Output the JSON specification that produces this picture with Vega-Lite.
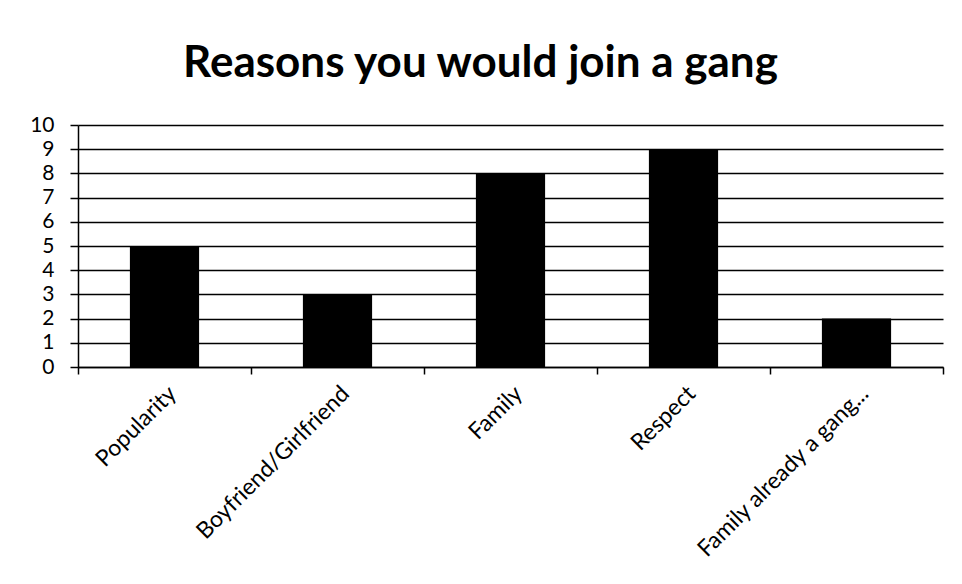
{
  "$schema": "https://vega.github.io/schema/vega-lite/v6.json",
  "width": 865,
  "height": 242,
  "autosize": "none",
  "padding": {"left": 78, "top": 125, "right": 19, "bottom": 217},
  "background": "white",
  "title": {
    "text": "Reasons you would join a gang",
    "font": "Lato",
    "fontSize": 44,
    "fontWeight": "bold",
    "color": "black",
    "anchor": "middle",
    "dx": -30,
    "offset": 28
  },
  "data": {
    "values": [
      {"reason": "Popularity", "count": 5},
      {"reason": "Boyfriend/Girlfriend", "count": 3},
      {"reason": "Family", "count": 8},
      {"reason": "Respect", "count": 9},
      {"reason": "Family already a gang...", "count": 2}
    ]
  },
  "mark": {"type": "bar", "color": "black", "width": {"band": 0.4}},
  "encoding": {
    "x": {
      "field": "reason",
      "type": "nominal",
      "sort": null,
      "scale": {"paddingInner": 0, "paddingOuter": 0},
      "axis": {
        "title": null,
        "labelAngle": -45,
        "labelAlign": "right",
        "labelBaseline": "top",
        "labelFont": "Lato",
        "labelFontSize": 23,
        "labelColor": "black",
        "labelPadding": 8,
        "labelLimit": 400,
        "tickBand": "extent",
        "tickSize": 7,
        "tickColor": "black",
        "tickWidth": 1.5,
        "domainColor": "black",
        "domainWidth": 1.5,
        "grid": false
      }
    },
    "y": {
      "field": "count",
      "type": "quantitative",
      "scale": {"domain": [0, 10], "nice": false},
      "axis": {
        "title": null,
        "values": [0, 1, 2, 3, 4, 5, 6, 7, 8, 9, 10],
        "labelFont": "Lato",
        "labelFontSize": 21,
        "labelColor": "black",
        "labelPadding": 16,
        "tickSize": 8,
        "tickColor": "black",
        "tickWidth": 1.5,
        "domainColor": "black",
        "domainWidth": 1.5,
        "grid": true,
        "gridColor": "black",
        "gridWidth": 1.5,
        "gridOpacity": 1
      }
    }
  },
  "config": {"view": {"stroke": null}}
}
